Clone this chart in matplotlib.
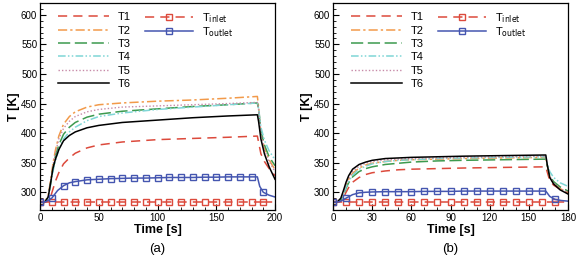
import matplotlib.pyplot as plt
from matplotlib.ticker import MultipleLocator

plt.rcParams['font.family'] = ['Liberation Sans', 'DejaVu Sans']

# ---- (a) ----
time_a = [0, 4, 7, 9, 11, 13, 16, 20, 25, 30, 40, 50, 70, 100, 130, 160, 185, 186, 188, 191, 195, 200]
T1_a = [283, 283, 285, 292, 305, 318, 333, 348, 358, 366, 375, 380, 385, 389, 391, 393, 395, 385, 365, 352, 340, 328]
T2_a = [283, 283, 295, 320, 348, 370, 395, 415, 428, 436, 444, 448, 451, 454, 456, 459, 462, 445, 400, 375, 355, 338]
T3_a = [283, 283, 292, 315, 340, 360, 380, 398, 410, 418, 427, 432, 437, 441, 445, 448, 451, 440, 405, 380, 360, 345]
T4_a = [283, 283, 291, 312, 335, 352, 372, 390, 402, 410, 421, 428, 434, 440, 444, 448, 451, 442, 410, 388, 370, 355]
T5_a = [283, 283, 294, 318, 345, 365, 390, 408, 420, 428, 436, 440, 444, 446, 448, 450, 452, 440, 400, 372, 352, 335]
T6_a = [283, 283, 292, 315, 340, 355, 372, 387, 396, 402, 409, 413, 418, 422, 426, 429, 431, 420, 390, 365, 343, 322]

tout_a = [0, 5, 10, 15, 20, 25, 30, 40, 50, 60, 70, 80, 90, 100, 110, 120, 130, 140, 150, 160, 170, 180,
          185, 187, 190, 195, 200]
Tout_a = [283, 284, 290, 303, 311, 316, 318, 321, 322, 323, 323.5, 324, 324, 324.5, 325, 325, 325, 325.5, 325.5,
          326, 326, 326, 326, 310, 300, 295, 292]
mk_out_a = [0, 2, 4, 6, 7, 8, 9, 10, 11, 12, 13, 14, 15, 16, 17, 18, 19, 20, 21, 24]
tin_a = list(range(0, 200, 10)) + [200]
Tin_a = [283] * len(tin_a)

# ---- (b) ----
time_b = [0, 3, 6, 8, 10, 12, 15, 20, 25, 30, 40, 50, 60, 80, 100, 130, 163, 164, 166, 169, 174, 180]
T1_b = [283, 283, 285, 291, 300, 308, 317, 325, 330, 333, 336, 338, 339, 340, 341, 342, 343, 335, 320, 312, 305, 299]
T2_b = [283, 283, 288, 298, 312, 322, 332, 341, 346, 349, 352, 354, 355, 356, 357, 358, 359, 345, 325, 315, 306, 300]
T3_b = [283, 283, 287, 295, 307, 316, 326, 335, 340, 343, 347, 349, 351, 353, 354, 355, 356, 346, 328, 318, 309, 302]
T4_b = [283, 283, 287, 296, 309, 318, 329, 339, 344, 348, 352, 354, 355, 357, 358, 359, 360, 350, 335, 325, 316, 310]
T5_b = [283, 283, 289, 300, 314, 324, 335, 344, 349, 352, 355, 356, 357, 358, 359, 360, 361, 348, 327, 316, 306, 300]
T6_b = [283, 283, 290, 303, 317, 328, 339, 347, 351, 354, 357, 358, 359, 360, 361, 362, 363, 348, 325, 314, 304, 297]

tout_b = [0, 5, 10, 15, 20, 25, 30, 40, 50, 60, 70, 80, 90, 100, 110, 120, 130, 140, 150, 160,
          163, 166, 170, 175, 180]
Tout_b = [283, 284, 290, 296, 299, 300, 300.5, 301, 301, 301, 301.5, 301.5, 301.5, 302, 302, 302, 302, 302, 302,
          302, 302, 293, 288, 286, 285]
mk_out_b = [0, 2, 4, 6, 7, 8, 9, 10, 11, 12, 13, 14, 15, 16, 17, 18, 19, 22]
tin_b = list(range(0, 180, 10)) + [180]
Tin_b = [283] * len(tin_b)

c_red = '#dc4a3c'
c_org = '#f29a4a'
c_grn = '#3c9a4e'
c_cyn = '#7fd6d6'
c_pnk = '#c78aa8'
c_blu = '#4556b0'

fig = plt.figure(figsize=(5.8, 2.58), dpi=100)
ax_a = fig.add_axes([40 / 580, 48 / 258, 235 / 580, 207 / 258])
ax_b = fig.add_axes([333 / 580, 48 / 258, 235 / 580, 207 / 258])

panels = [
    (ax_a, time_a, [T1_a, T2_a, T3_a, T4_a, T5_a, T6_a], tout_a, Tout_a, mk_out_a, tin_a, Tin_a, 200, 50, '(a)'),
    (ax_b, time_b, [T1_b, T2_b, T3_b, T4_b, T5_b, T6_b], tout_b, Tout_b, mk_out_b, tin_b, Tin_b, 180, 30, '(b)'),
]

for ax, t, Ts, to, To, mko, ti, Ti, xmax, xstep, tag in panels:
    l1, = ax.plot(t, Ts[0], color=c_red, lw=1.1, dashes=(6, 4), label='T1')
    l2, = ax.plot(t, Ts[1], color=c_org, lw=1.1, dashes=(6, 2, 1.5, 2), label='T2')
    l3, = ax.plot(t, Ts[2], color=c_grn, lw=1.1, dashes=(8, 3), label='T3')
    l4, = ax.plot(t, Ts[3], color=c_cyn, lw=1.1, dashes=(5, 1.5, 1, 1.5, 1, 1.5), label='T4')
    l5, = ax.plot(t, Ts[4], color=c_pnk, lw=1.0, dashes=(1, 1.5), label='T5')
    l6, = ax.plot(t, Ts[5], color='black', lw=1.1, label='T6')
    li, = ax.plot(ti[:-1], Ti[:-1], color=c_red, lw=1.1, dashes=(6, 4), marker='s', ms=5,
                  mfc='none', mec=c_red, mew=1.0, label=r'T$_{\mathrm{inlet}}$')
    ax.plot(ti[-2:], Ti[-2:], color=c_red, lw=1.1, dashes=(6, 4))
    lo, = ax.plot(to, To, color=c_blu, lw=1.1, marker='s', ms=5, mfc='none', mec=c_blu, mew=1.0,
                  markevery=mko, label=r'T$_{\mathrm{outlet}}$')

    ax.set_xlim(0, xmax)
    ax.set_ylim(270, 620)
    ax.xaxis.set_major_locator(MultipleLocator(xstep))
    ax.xaxis.set_minor_locator(MultipleLocator(10))
    ax.yaxis.set_major_locator(MultipleLocator(50))
    ax.yaxis.set_minor_locator(MultipleLocator(10))
    ax.tick_params(which='both', direction='in', labelsize=7, pad=2)
    ax.tick_params(which='major', length=4, width=0.8)
    ax.tick_params(which='minor', length=2.5, width=0.6)
    for s in ax.spines.values():
        s.set_linewidth(0.9)
    ax.set_xlabel('Time [s]', fontsize=9, fontweight='bold', labelpad=1)
    ax.set_ylabel('T [K]', fontsize=9, fontweight='bold', labelpad=1)

    leg1 = ax.legend(handles=[l1, l2, l3, l4, l5, l6], loc='upper left', bbox_to_anchor=(0.075, 0.955),
                     frameon=False, fontsize=8, handlelength=4.6, handletextpad=0.8,
                     labelspacing=0.3, borderaxespad=0, borderpad=0)
    ax.add_artist(leg1)
    ax.legend(handles=[li, lo], loc='upper left', bbox_to_anchor=(0.445, 0.96),
              frameon=False, fontsize=8, handlelength=4.4, handletextpad=0.8,
              labelspacing=0.0, borderaxespad=0, borderpad=0)

    fig.text(ax.get_position().x0 + ax.get_position().width / 2, 0.035, tag,
             ha='center', va='center', fontsize=9.5, fontweight='light')

fig.savefig('out.png', dpi=100)
